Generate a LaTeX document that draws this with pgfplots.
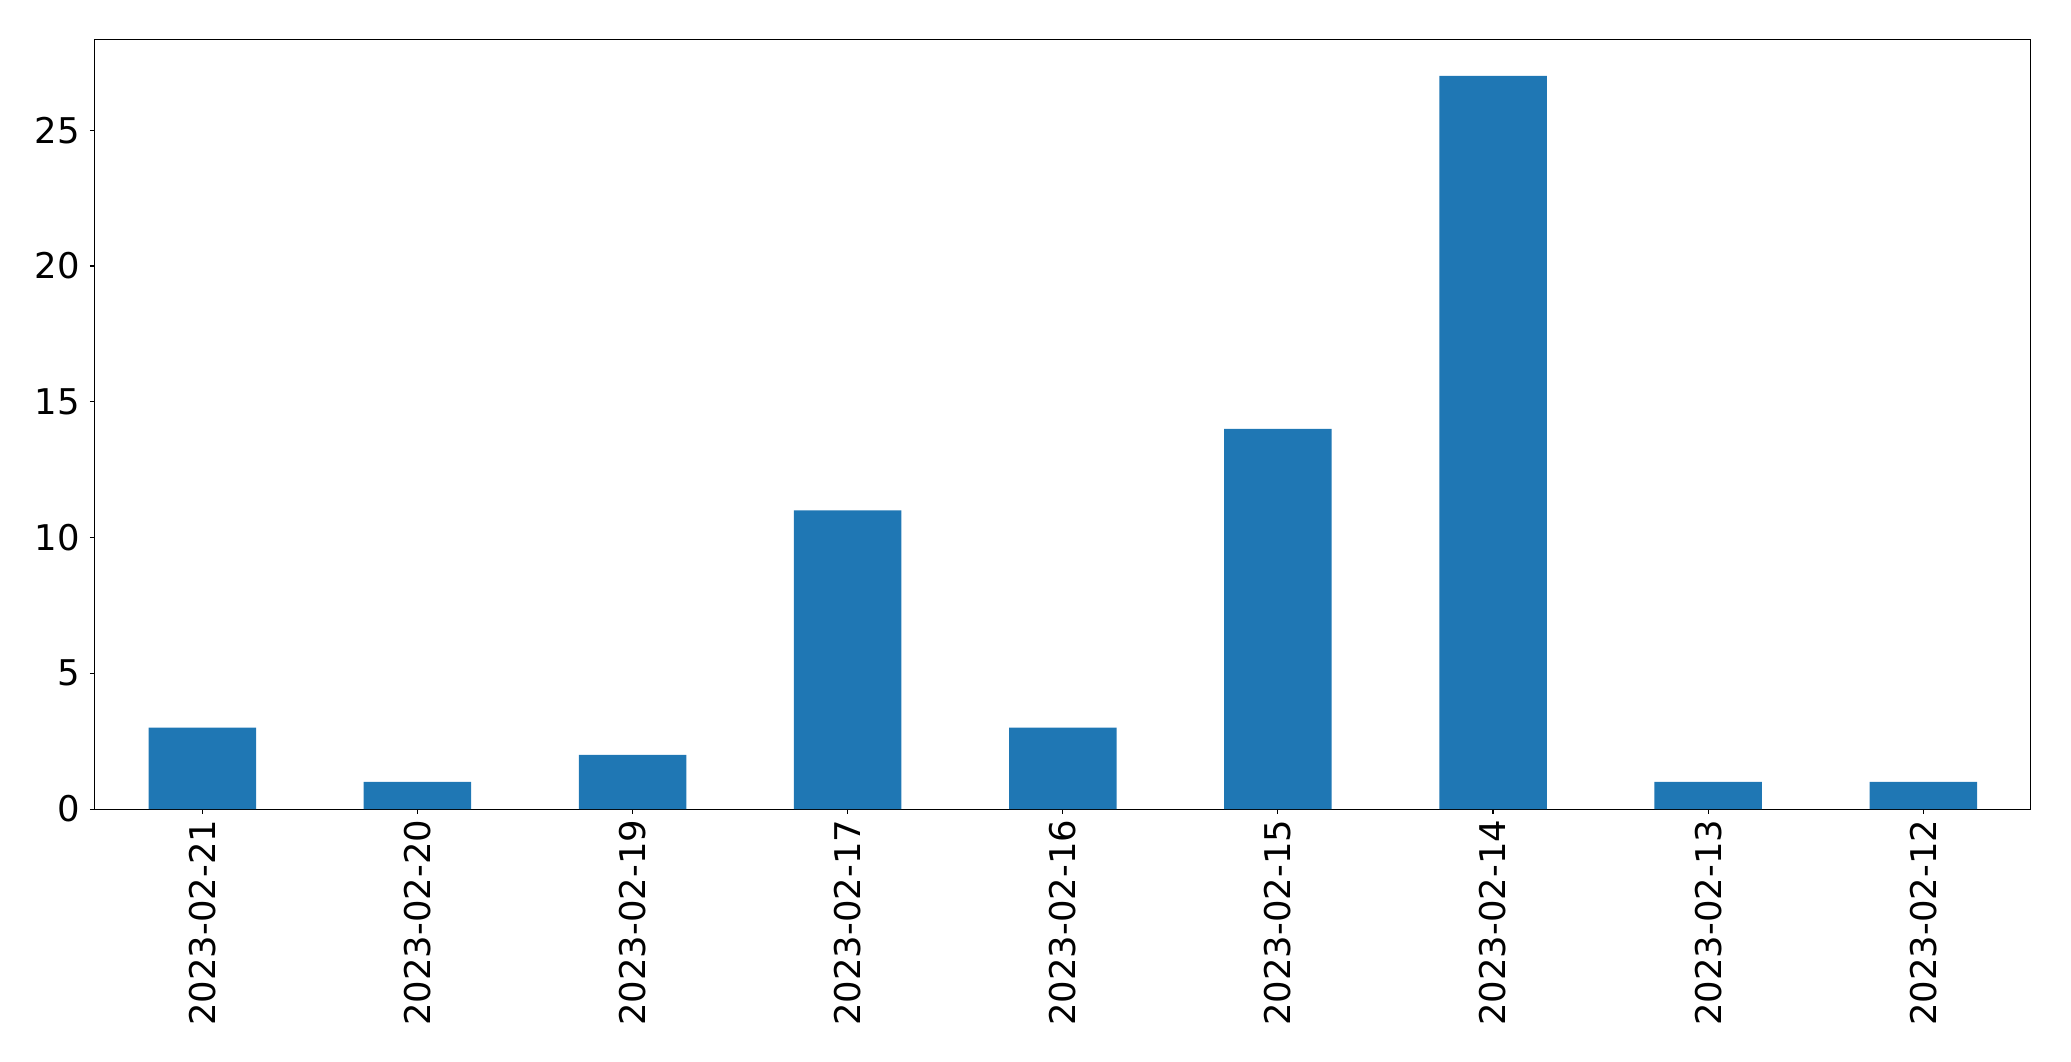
\documentclass[border=0pt]{standalone}
\usepackage{fontspec}
\setmainfont{DejaVu Sans}
\usepackage{pgfplots}
\pgfplotsset{compat=1.18}
\begin{document}
\begin{tikzpicture}
\useasboundingbox (-68.2pt,-181.4pt) rectangle (1422.8pt,582.5pt);
\begin{axis}[
  at={(0,0)}, anchor=south west,
  width=1394pt, height=554.2pt, scale only axis,
  xmin=-0.5, xmax=8.5, ymin=0, ymax=28.35,
  xtick={0,1,2,3,4,5,6,7,8},
  xticklabels={2023-02-21,2023-02-20,2023-02-19,2023-02-17,2023-02-16,2023-02-15,2023-02-14,2023-02-13,2023-02-12},
  ytick={0,5,10,15,20,25},
  tick align=outside, xtick pos=bottom, ytick pos=left,
  major tick length=3.5pt,
  tick style={black, line width=0.8pt},
  axis line style={black, line width=0.8pt},
  x tick label style={rotate=90, anchor=east, font=\fontsize{25.5}{30}\selectfont, inner sep=0pt, xshift=-4pt},
  y tick label style={font=\fontsize{25.5}{30}\selectfont, inner sep=0pt, xshift=-7pt},
  /pgf/number format/assume math mode=true,
  ybar, bar width=0.5, bar shift=0pt,
]
\addplot[fill={rgb,255:red,31;green,119;blue,180}, draw=none] coordinates {
(0,3) (1,1) (2,2) (3,11) (4,3) (5,14) (6,27) (7,1) (8,1)};
\end{axis}
\end{tikzpicture}
\end{document}
